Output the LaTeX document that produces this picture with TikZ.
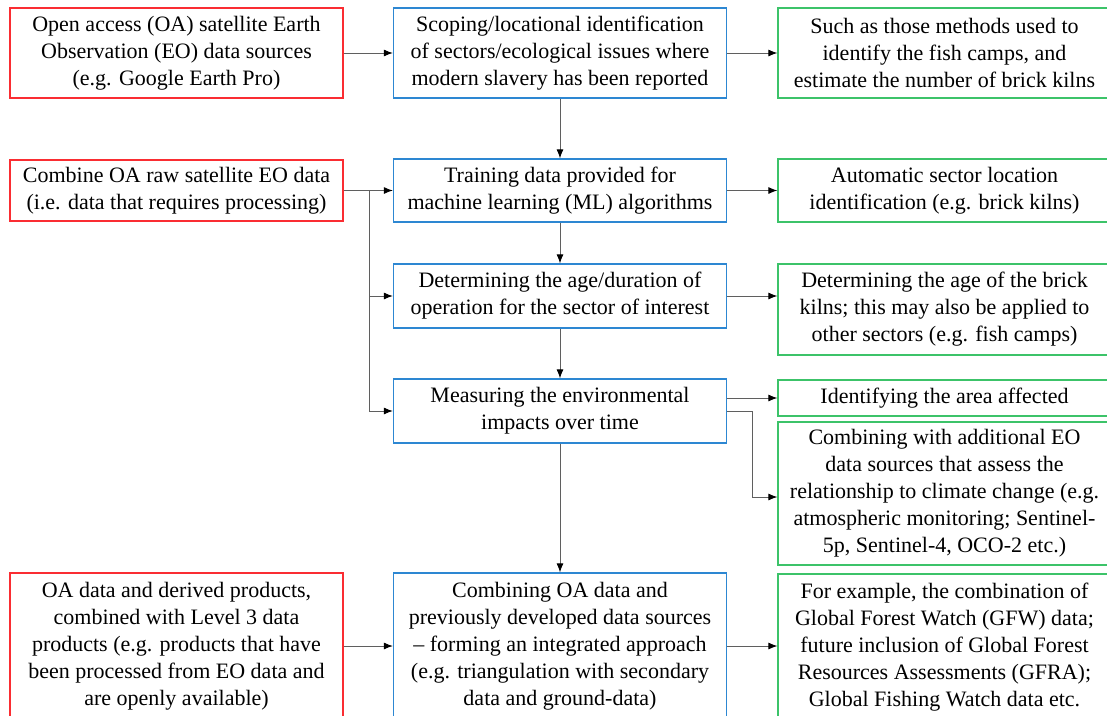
\documentclass[tikz,border=0pt]{standalone}
\usepackage{fontspec}
\setmainfont{Liberation Serif}
\usetikzlibrary{arrows.meta}
\definecolor{srcred}{RGB}{250,45,50}
\definecolor{stepblue}{RGB}{45,135,210}
\definecolor{outgreen}{RGB}{60,195,105}
\definecolor{linkgray}{RGB}{95,95,95}
\begin{document}
\begin{tikzpicture}[x=1pt,y=-1pt,
  box/.style={draw, line width=1.3pt, inner sep=0pt, align=center,
    minimum width=333pt, font=\rmfamily\fontsize{22}{27}\selectfont},
  srcbox/.style={box, draw=srcred},
  stepbox/.style={box, draw=stepblue},
  outbox/.style={box, draw=outgreen},
  link/.style={draw=linkgray, line width=0.9pt,
    -{Latex[length=9pt,width=7pt,color=black]}}]
\useasboundingbox (0,0) rectangle (1107,715);
\clip (0,0) rectangle (1107,715);

% sources (left column)
\node[srcbox, minimum height=90pt] (r1) at (176.5,53)
  {Open access (OA) satellite Earth\\Observation (EO) data sources\\(e.g. Google Earth Pro)};
\node[srcbox, minimum height=61pt] (r2) at (176.5,190.5)
  {Combine OA raw satellite EO data\\(i.e. data that requires processing)};
\node[srcbox, minimum height=146pt] (r3) at (176.5,646)
  {OA data and derived products,\\combined with Level 3 data\\products (e.g. products that have\\been processed from EO data and\\are openly available)};

% process steps (middle column)
\node[stepbox, minimum height=90pt] (b1) at (560,53)
  {Scoping/locational identification\\of sectors/ecological issues where\\modern slavery has been reported};
\node[stepbox, minimum height=63pt] (b2) at (560,190.5)
  {Training data provided for\\machine learning (ML) algorithms};
\node[stepbox, minimum height=64pt] (b3) at (560,296)
  {Determining the age/duration of\\operation for the sector of interest};
\node[stepbox, minimum height=64pt] (b4) at (560,411)
  {Measuring the environmental\\impacts over time};
\node[stepbox, minimum height=146pt] (b5) at (560,646)
  {Combining OA data and\\previously developed data sources\\– forming an integrated approach\\(e.g. triangulation with secondary\\data and ground-data)};

% outcomes (right column)
\node[outbox, minimum height=90pt] (g1) at (944.5,53)
  {Such as those methods used to\\identify the fish camps, and\\estimate the number of brick kilns};
\node[outbox, minimum height=63pt] (g2) at (944.5,190.5)
  {Automatic sector location\\identification (e.g. brick kilns)};
\node[outbox, minimum height=91pt] (g3) at (944.5,309.5)
  {Determining the age of the brick\\kilns; this may also be applied to\\other sectors (e.g. fish camps)};
\node[outbox, minimum height=36pt] (g4) at (944.5,398)
  {Identifying the area affected};
\node[outbox, minimum height=143pt] (g5) at (944.5,493.5)
  {Combining with additional EO\\data sources that assess the\\relationship to climate change (e.g.\\atmospheric monitoring; Sentinel-\\5p, Sentinel-4, OCO-2 etc.)};
\node[outbox, minimum height=146pt] (g6) at (944.5,647)
  {For example, the combination of\\Global Forest Watch (GFW) data;\\future inclusion of Global Forest\\Resources Assessments (GFRA);\\Global Fishing Watch data etc.};

% junction points
\coordinate (j) at (369,190.5);
\coordinate (k) at (752,497);

% connectors
\draw[link] (r1) -- (b1);
\draw[link] (b1) -- (g1);
\draw[link] (b1) -- (b2);
\draw[link] (r2) -- (b2);
\draw[link] (j) |- (b3.west);
\draw[link] (j) |- (b4.west);
\draw[link] (b2) -- (g2);
\draw[link] (b2) -- (b3);
\draw[link] (b3.east) -- (b3.east -| g3.west);
\draw[link] (b3) -- (b4);
\draw[link] (b4.east |- g4.west) -- (g4.west);
\draw[link] (b4.east) -| (k) -- (k -| g5.west);
\draw[link] (b4) -- (b5);
\draw[link] (r3.east |- 0,646) -- (b5.west |- 0,646);
\draw[link] (b5.east |- 0,646) -- (g6.west |- 0,646);
\end{tikzpicture}
\end{document}
